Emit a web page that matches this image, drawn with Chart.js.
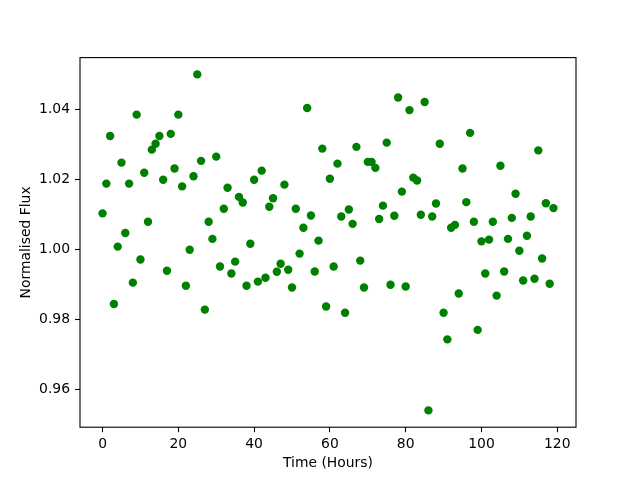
<!DOCTYPE html>
<html>
<head>
<meta charset="utf-8">
<script src="https://cdn.jsdelivr.net/npm/chart.js@4/dist/chart.umd.min.js"></script>
<style>
  html, body { margin: 0; padding: 0; background: #ffffff; }
  #wrap { width: 640px; height: 480px; }
</style>
</head>
<body>
<div id="wrap"><canvas id="c" width="640" height="480"></canvas></div>
<script>
const hours = [
  0, 1, 2, 3, 4, 5, 6, 7, 8, 9, 10, 11, 12, 13, 14, 15, 16, 17, 18, 19,
  20, 21, 22, 23, 24, 25, 26, 27, 28, 29, 30, 31, 32, 33, 34, 35, 36, 37, 38, 39,
  40, 41, 42, 43, 44, 45, 46, 47, 48, 49, 50, 51, 52, 53, 54, 55, 56, 57, 58, 59,
  60, 61, 62, 63, 64, 65, 66, 67, 68, 69, 70, 71, 72, 73, 74, 75, 76, 77, 78, 79,
  80, 81, 82, 83, 84, 85, 86, 87, 88, 89, 90, 91, 92, 93, 94, 95, 96, 97, 98, 99,
  100, 101, 102, 103, 104, 105, 106, 107, 108, 109, 110, 111, 112, 113, 114, 115, 116, 117, 118, 119
];
const flux = [
  1.0104, 1.0189, 1.0325, 0.9845, 1.0009, 1.0249, 1.0048, 1.0189, 0.9906, 1.0386,
  0.9972, 1.0220, 1.0080, 1.0286, 1.0303, 1.0325, 1.0200, 0.9940, 1.0331, 1.0232,
  1.0386, 1.0181, 0.9897, 1.0000, 1.0210, 1.0501, 1.0254, 0.9829, 1.0080, 1.0031,
  1.0266, 0.9952, 1.0117, 1.0177, 0.9932, 0.9966, 1.0151, 1.0135, 0.9897, 1.0017,
  1.0200, 0.9909, 1.0226, 0.9920, 1.0123, 1.0147, 0.9937, 0.9960, 1.0186, 0.9943,
  0.9892, 1.0117, 0.9989, 1.0063, 1.0405, 1.0098, 0.9938, 1.0026, 1.0289, 0.9838,
  1.0203, 0.9952, 1.0246, 1.0095, 0.9820, 1.0115, 1.0074, 1.0294, 0.9969, 0.9892,
  1.0251, 1.0251, 1.0234, 1.0088, 1.0126, 1.0306, 0.9900, 1.0097, 1.0435, 1.0166,
  0.9895, 1.0399, 1.0206, 1.0198, 1.0100, 1.0422, 0.9541, 1.0095, 1.0132, 1.0303,
  0.9820, 0.9744, 1.0063, 1.0071, 0.9875, 1.0232, 1.0136, 1.0334, 1.0080, 0.9771,
  1.0024, 0.9932, 1.0029, 1.0080, 0.9869, 1.0240, 0.9938, 1.0031, 1.0091, 1.0160,
  0.9997, 0.9912, 1.0040, 1.0095, 0.9917, 1.0284, 0.9975, 1.0133, 0.9903, 1.0119
];
const xTicks = [0, 20, 40, 60, 80, 100, 120];
const yTicks = [0.96, 0.98, 1.00, 1.02, 1.04];
const xLabel = 'Time (Hours)';
const yLabel = 'Normalised Flux';

const points = hours.map((h, i) => ({ x: h, y: flux[i] }));

const FONT = { family: 'DejaVu Sans', size: 13.9 };

const boxPlugin = {
  id: 'box',
  afterDraw(chart) {
    const a = chart.chartArea;
    const ctx = chart.ctx;
    ctx.save();
    ctx.strokeStyle = '#000';
    ctx.lineWidth = 1.1;
    ctx.strokeRect(a.left, a.top, a.right - a.left, a.bottom - a.top);
    ctx.restore();
  }
};

new Chart(document.getElementById('c'), {
  type: 'scatter',
  data: {
    datasets: [{
      data: points,
      backgroundColor: '#008000',
      borderColor: '#008000',
      borderWidth: 0,
      pointRadius: 4.2,
      pointHoverRadius: 4.2
    }]
  },
  options: {
    responsive: false,
    animation: false,
    devicePixelRatio: 1,
    layout: { padding: { top: 57.6, right: 64, left: 0, bottom: 0 } },
    plugins: { legend: { display: false }, tooltip: { enabled: false } },
    scales: {
      x: {
        type: 'linear',
        min: -5.95,
        max: 124.95,
        afterFit(s) { s.height = 52.8; },
        afterBuildTicks(s) { s.ticks = xTicks.map(v => ({ value: v })); },
        grid: { display: true, drawOnChartArea: false, drawTicks: true, tickLength: 5, color: '#000', tickWidth: 1.1 },
        border: { display: false },
        ticks: { color: '#000', font: FONT, padding: 4, maxRotation: 0, autoSkip: false, includeBounds: false,
                 callback: v => String(v) },
        title: { display: true, text: xLabel, color: '#000', font: FONT, padding: { top: 0, bottom: 8 } }
      },
      y: {
        type: 'linear',
        min: 0.9493,
        max: 1.0549,
        afterFit(s) { s.width = 80; },
        afterBuildTicks(s) { s.ticks = yTicks.map(v => ({ value: v })); },
        grid: { display: true, drawOnChartArea: false, drawTicks: true, tickLength: 5, color: '#000', tickWidth: 1.1 },
        border: { display: false },
        ticks: { color: '#000', font: FONT, padding: 5, autoSkip: false, includeBounds: false,
                 callback: v => Number(v).toFixed(2) },
        title: { display: true, text: yLabel, color: '#000', font: FONT, padding: { top: 18.5, bottom: 0 } }
      }
    }
  },
  plugins: [boxPlugin]
});
</script>
</body>
</html>
